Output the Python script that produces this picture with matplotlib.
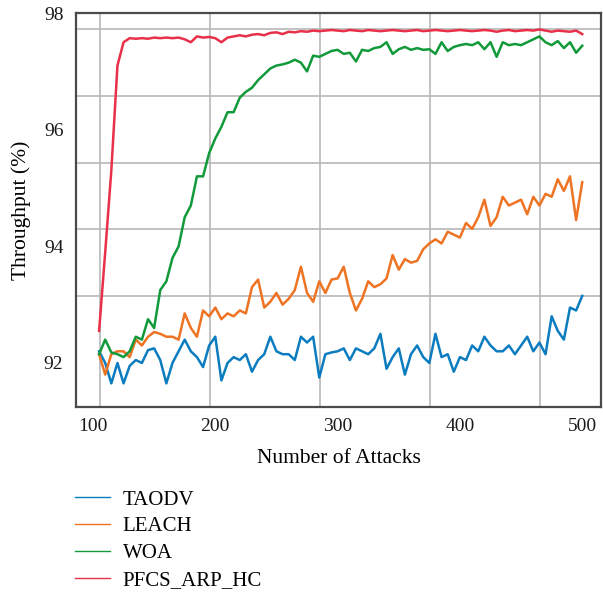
import numpy as np
import matplotlib
matplotlib.use("Agg")
import matplotlib.pyplot as plt

plt.rcParams['font.family'] = ['Liberation Serif', 'DejaVu Serif']

# number of attacks (x), read every 5 attacks
attacks = np.arange(105, 505, 5)

taodv = [92.2, 92.0, 91.65, 92.0, 91.65, 91.95, 92.05, 92.0, 92.22, 92.25,
         92.05, 91.65, 92.0, 92.2, 92.4, 92.2, 92.1, 91.93, 92.3, 92.45,
         91.7, 92.0, 92.1, 92.05, 92.15, 91.85, 92.05, 92.15, 92.45, 92.2,
         92.15, 92.15, 92.05, 92.45, 92.35, 92.45, 91.75, 92.15, 92.18, 92.2,
         92.25, 92.05, 92.25, 92.2, 92.15, 92.25, 92.5, 91.9, 92.1, 92.25,
         91.8, 92.15, 92.3, 92.1, 92.0, 92.5, 92.1, 92.15, 91.85, 92.1,
         92.05, 92.3, 92.2, 92.45, 92.3, 92.2, 92.2, 92.3, 92.15, 92.3,
         92.45, 92.2, 92.35, 92.15, 92.8, 92.55, 92.4, 92.95, 92.9, 93.15]

leach = [92.15, 91.8, 92.15, 92.2, 92.2, 92.1, 92.4, 92.3, 92.45, 92.53,
         92.5, 92.45, 92.45, 92.4, 92.85, 92.6, 92.45, 92.9, 92.8, 92.95,
         92.75, 92.85, 92.8, 92.9, 92.85, 93.3, 93.43, 92.95, 93.05, 93.2,
         93.0, 93.1, 93.25, 93.65, 93.2, 93.05, 93.4, 93.2, 93.43, 93.45,
         93.65, 93.2, 92.9, 93.1, 93.4, 93.3, 93.35, 93.45, 93.85, 93.6,
         93.78, 93.72, 93.75, 93.95, 94.05, 94.12, 94.05, 94.25, 94.2, 94.15,
         94.4, 94.3, 94.5, 94.8, 94.35, 94.5, 94.85, 94.7, 94.75, 94.8,
         94.55, 94.85, 94.7, 94.9, 94.85, 95.15, 94.95, 95.2, 94.45, 95.1]

woa = [92.15, 92.4, 92.18, 92.15, 92.1, 92.2, 92.45, 92.4, 92.75, 92.6,
       93.25, 93.4, 93.8, 94.0, 94.5, 94.7, 95.2, 95.2, 95.6, 95.85,
       96.05, 96.3, 96.3, 96.55, 96.65, 96.72, 96.85, 96.95, 97.05, 97.1,
       97.12, 97.15, 97.2, 97.15, 97.0, 97.27, 97.25, 97.3, 97.35, 97.37,
       97.3, 97.32, 97.17, 97.37, 97.35, 97.4, 97.42, 97.5, 97.3, 97.38,
       97.42, 97.37, 97.4, 97.37, 97.38, 97.3, 97.5, 97.35, 97.42, 97.45,
       97.47, 97.45, 97.5, 97.38, 97.5, 97.25, 97.5, 97.45, 97.47, 97.45,
       97.5, 97.55, 97.6, 97.5, 97.45, 97.52, 97.4, 97.5, 97.32, 97.44]

pfcs = [92.55, 93.9, 95.3, 97.1, 97.5, 97.57, 97.56, 97.57, 97.56, 97.58,
        97.57, 97.58, 97.57, 97.58, 97.55, 97.5, 97.6, 97.58, 97.59, 97.57,
        97.5, 97.58, 97.6, 97.62, 97.6, 97.63, 97.64, 97.62, 97.66, 97.67,
        97.64, 97.68, 97.67, 97.69, 97.68, 97.7, 97.69, 97.7, 97.71, 97.7,
        97.69, 97.71, 97.7, 97.69, 97.71, 97.7, 97.69, 97.7, 97.71, 97.7,
        97.69, 97.7, 97.71, 97.69, 97.7, 97.71, 97.7, 97.69, 97.7, 97.71,
        97.7, 97.69, 97.7, 97.71, 97.7, 97.68, 97.7, 97.71, 97.69, 97.7,
        97.71, 97.7, 97.72, 97.7, 97.68, 97.7, 97.69, 97.68, 97.7, 97.64]

labels = ['TAODV', 'LEACH', 'WOA', 'PFCS_ARP_HC']
colors = ['#0b7cc0', '#ee7322', '#11993a', '#e8304a']

x_ticks = [100, 200, 300, 400, 500]
y_ticks = [92, 94, 96, 98]
# the grid in the original does not sit on the tick labels
grid_x = [105.7, 195.7, 285.7, 375.7, 465.7]
grid_y = [92.0, 93.14, 94.29, 95.43, 96.57, 97.72]

fig = plt.figure(figsize=(6.03, 5.95), dpi=100)
ax = fig.add_axes([0.126, 0.316, 0.871, 0.662])

for series, lab, col in zip([taodv, leach, woa, pfcs], labels, colors):
    ax.plot(attacks, series, color=col, lw=1.8, label=lab)

ax.set_xlim(86.1, 515.5)
ax.set_ylim(91.245, 98.0)
ax.set_xticks(x_ticks)
ax.set_yticks(y_ticks)
ax.set_xticks(grid_x, minor=True)
ax.set_yticks(grid_y, minor=True)
ax.tick_params(which='both', length=0, labelsize=14, colors='#1a1a1a')
ax.tick_params(axis='x', pad=8)
ax.tick_params(axis='y', pad=9)
ax.grid(which='minor', color='#b8b8b8', lw=1.2)
ax.set_axisbelow(True)
for s in ax.spines.values():
    s.set_color('#4a4a4a')
    s.set_linewidth(1.6)

ax.set_xlabel('Number of Attacks', fontsize=15.5, labelpad=10)
ax.set_ylabel('Throughput (%)', fontsize=15.5, labelpad=9)

leg = fig.legend(loc='upper left', bbox_to_anchor=(0.093, 0.208), frameon=False,
                 fontsize=15, handlelength=1.7, handletextpad=0.6, labelspacing=0.35)
for ln in leg.get_lines():
    ln.set_linewidth(1.0)

fig.savefig('out.png', dpi=100)
